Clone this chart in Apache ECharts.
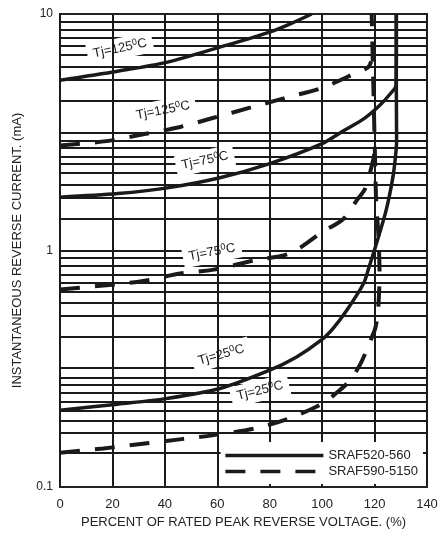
<!DOCTYPE html>
<html><head><meta charset="utf-8">
<script src="https://cdn.jsdelivr.net/npm/echarts@6/dist/echarts.min.js"></script>
<style>html,body{margin:0;padding:0;background:#fff}#c{width:441px;height:536px}</style>
</head><body><div id="c"></div>
<script>
// ---- data ----
const xTicks = [0, 20, 40, 60, 80, 100, 120, 140];
const yTicks = [0.1, 1, 10];
const seriesNames = ['SRAF520-560', 'SRAF590-5150'];

// SRAF520-560 (solid)
const solid125 = [[0,5.25],[22,5.73],[41,6.26],[61,7.24],[80,8.38],[88,9.1],[96,10]];
const solid75  = [[0,1.68],[22,1.74],[41,1.84],[61,2.03],[80,2.33],[100,2.83],[108,3.2],[116,3.61],[122,4.11],[126,4.6],[128.2,5.0],[128.3,7.0],[128.3,10]];
const solid25  = [[0,0.211],[22,0.224],[41,0.237],[61,0.261],[80,0.312],[90.1,0.354],[99.6,0.4175],[104.2,0.469],[109.4,0.559],[115.8,0.725],[117.75,0.841],[119.9,1.0],[124.4,1.478],[127.1,2.078],[128.2,2.65],[128.4,2.92],[128.3,5.0],[128.3,10]];

// SRAF590-5150 (dashed)
const dashed125 = [[0,2.78],[17.7,2.90],[31.7,3.10],[45.8,3.33],[58.6,3.64],[73.3,4.04],[87,4.45],[100.2,4.88],[113.5,5.68],[117.6,5.96],[118.7,6.3]];
const dashed75  = [[0,0.684],[17.7,0.713],[31.7,0.743],[45.8,0.799],[58.6,0.830],[74.4,0.909],[87.8,0.973],[100.2,1.2],[108.1,1.36],[113.2,1.63],[116.4,1.83],[119.6,2.45],[120.1,2.7]];
const dashed25  = [[0,0.1395],[16.6,0.1456],[32.4,0.1528],[46.4,0.1594],[58.6,0.1657],[74.4,0.1769],[87.4,0.195],[100.2,0.2255],[105.3,0.249],[110.7,0.283],[114.5,0.33],[117,0.379],[119,0.431],[120.3,0.47],[121.3,0.553],[121.9,0.793],[121.5,1.137],[120.6,1.63],[120.2,2.4],[119.55,4.89],[118.9,10]];

// horizontal grid lines as drawn on the reference paper
const gridValues = [9.25,8.56,7.92,7.32,6.74,6.00,5.29,4.31,
  3.162,2.925,2.706,2.503,2.316,2.133,1.898,1.672,1.363,
  1,0.925,0.856,0.792,0.732,0.674,0.600,0.529,0.431,
  0.3162,0.2925,0.2706,0.2503,0.2316,0.2133,0.1898,0.1672,0.1363];

// curve labels
const labelPos   = [[22.9,7.15],[39.3,3.91],[55.3,2.40],[58,0.983],[61.5,0.362],[76.3,0.2555]];
const labelTemp  = ['125','125','75','75','25','25'];
const labelAngle = [12, 11, 12, 11, 16, 14];

// ---- chart ----
const FONT = '"Liberation Sans", Arial, sans-serif';
const INK = '#1a1a1a';
const chart = echarts.init(document.getElementById('c'), null, {renderer: 'canvas'});

function curve(name, data, dashed) {
  return {
    type: 'line', name: name, data: data, symbol: 'none', smooth: 0.3,
    silent: true, z: 5, animation: false,
    itemStyle: {color: INK},
    lineStyle: {color: INK, width: dashed ? 4 : 3.5, type: dashed ? [20, 15] : 'solid'}
  };
}

const s1 = curve(seriesNames[0], solid125, false);
s1.markLine = {
  silent: true, z: 1, symbol: ['none', 'none'], animation: false,
  label: {show: false},
  lineStyle: {color: INK, width: 1.8, type: 'solid'},
  emphasis: {disabled: true},
  data: gridValues.map(v => ({yAxis: v}))
};

const labelSeries = {
  type: 'scatter', name: 'labels', symbolSize: 0, z: 3, silent: true, animation: false,
  itemStyle: {opacity: 1, color: '#fff'},
  data: labelPos.map((p, i) => ({
    value: p,
    label: {
      show: true, position: 'inside', rotate: labelAngle[i], opacity: 1,
      formatter: '{a|Tj=' + labelTemp[i] + '}{s|0}{a|C}',
      backgroundColor: '#fff', padding: [3, 6], color: INK,
      textBorderWidth: 0, textShadowBlur: 0,
      rich: {
        a: {fontFamily: FONT, fontSize: 13, color: INK, lineHeight: 15, textBorderWidth: 0},
        s: {fontFamily: FONT, fontSize: 9, color: INK, lineHeight: 15, verticalAlign: 'top', padding: [0, 0, 6, 0], textBorderWidth: 0}
      }
    }
  }))
};

chart.setOption({
  animation: false,
  backgroundColor: '#fff',
  textStyle: {fontFamily: FONT},
  grid: {left: 60, right: 14, top: 14, bottom: 49, show: true, borderColor: '#222', borderWidth: 2, containLabel: false},
  legend: {
    data: seriesNames, orient: 'vertical', right: 18, bottom: 52,
    itemWidth: 98, itemHeight: 12, itemGap: 3, padding: [7, 5, 6, 3],
    backgroundColor: '#fff', selectedMode: false, z: 6,
    itemStyle: {opacity: 0},
    lineStyle: {width: 3.5},
    textStyle: {fontFamily: FONT, fontSize: 13, color: '#222'}
  },
  xAxis: {
    type: 'value', min: xTicks[0], max: xTicks[xTicks.length - 1], interval: 20, z: 4,
    name: 'PERCENT OF RATED PEAK REVERSE VOLTAGE. (%)', nameLocation: 'middle', nameGap: 29,
    nameTextStyle: {fontFamily: FONT, fontSize: 13, color: '#222'},
    axisLine: {show: true, lineStyle: {color: '#222', width: 2}},
    axisTick: {show: true, inside: true, length: 4, lineStyle: {color: '#222', width: 2}},
    axisLabel: {fontFamily: FONT, fontSize: 13, color: '#222', margin: 11},
    splitLine: {show: true, lineStyle: {color: INK, width: 2}}
  },
  yAxis: {
    type: 'log', logBase: 10, min: yTicks[0], max: yTicks[yTicks.length - 1],
    name: 'INSTANTANEOUS REVERSE CURRENT. (mA)', nameLocation: 'middle', nameGap: 36,
    nameTextStyle: {fontFamily: FONT, fontSize: 13, color: '#222'},
    axisLine: {show: true, lineStyle: {color: '#222', width: 2}},
    axisTick: {show: false},
    axisLabel: {fontFamily: FONT, fontSize: 12, color: '#222', margin: 7},
    splitLine: {show: false},
    minorSplitLine: {show: false}
  },
  series: [
    s1,
    curve(seriesNames[0], solid75, false),
    curve(seriesNames[0], solid25, false),
    curve(seriesNames[1], dashed125, true),
    curve(seriesNames[1], dashed75, true),
    curve(seriesNames[1], dashed25, true),
    labelSeries
  ]
});
</script>
</body></html>
